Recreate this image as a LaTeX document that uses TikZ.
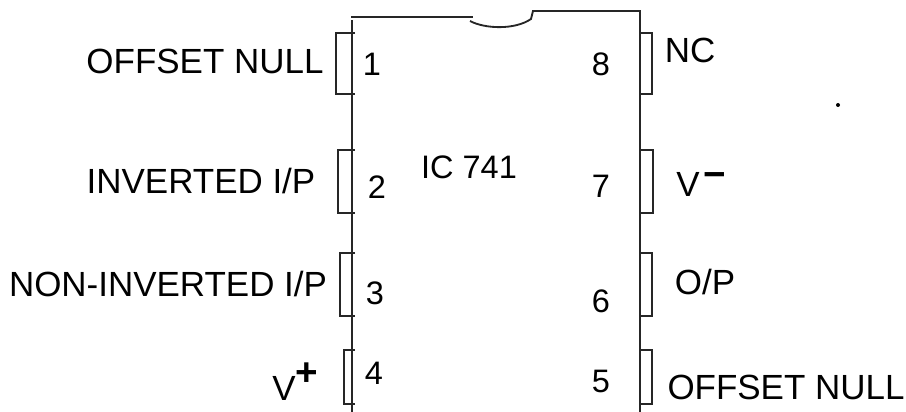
\documentclass[tikz,border=0pt]{standalone}
\usepackage{fontspec}
\setmainfont{Liberation Sans}
\tikzset{
  label/.style={inner sep=0pt, font=\fontsize{19.9}{20}\selectfont},
  pinnum/.style={inner sep=0pt, font=\fontsize{18.5}{18.5}\selectfont},
  chip/.style={line width=1.05pt, black!85}
}

\begin{document}
\begin{tikzpicture}[x=0.02cm, y=-0.02cm]
    \useasboundingbox (0, 0) rectangle (906, 412);
    % body of the chip
    \draw[chip] (352, 412)--(352, 20);
    \draw[chip] (351, 17)--(473, 17);
    \draw[chip] (470, 21) .. controls (485, 29) and (515, 30) .. (531, 19)--(533, 11)--(640, 11)--(640, 412);
    % left pins
    \draw[chip] (355, 33)--(336, 33)--(336, 94)--(355, 94);
    \draw[chip] (355, 150)--(338, 150)--(338, 213)--(355, 213);
    \draw[chip] (355, 253)--(340, 253)--(340, 316)--(355, 316);
    \draw[chip] (355, 350)--(344, 350)--(344, 404)--(355, 404);
    % right pins
    \draw[chip] (640, 33)--(652, 33)--(652, 94)--(640, 94);
    \draw[chip] (640, 150)--(653, 150)--(653, 213)--(640, 213);
    \draw[chip] (640, 253)--(652, 253)--(652, 316)--(640, 316);
    \draw[chip] (640, 350)--(652, 350)--(652, 404)--(640, 404);
    % pin numbers
    \node[pinnum] (one) at (372, 64){1};
    \node[pinnum] (two) at (377, 187){2};
    \node[pinnum] (three) at (375, 293){3};
    \node[pinnum] (four) at (374, 373){4};
    \node[pinnum] (five) at (601, 381){5};
    \node[pinnum] (six) at (601, 301){6};
    \node[pinnum] (seven) at (601, 186){7};
    \node[pinnum] (eight) at (601, 64){8};
    \node[pinnum] (ic) at (469, 167){IC 741};
    % pin names
    \node[label] (nullA) at (205, 61){OFFSET NULL};
    \node[label] (inv) at (201, 181){INVERTED I/P};
    \node[label] (noninv) at (168, 284){NON-INVERTED I/P};
    \node[label, anchor=base west] (vplus) at (272, 400){V\raisebox{8.5pt}{\fontsize{22}{22}\selectfont\bfseries +}};
    \node[label] (nc) at (690, 50){NC};
    \node[label, anchor=base west] (vminus) at (676, 196){V\raisebox{4.7pt}{\hspace{2.3pt}\fontsize{22}{22}\selectfont\bfseries \textminus}};
    \node[label] (op) at (705, 282){O/P};
    \node[label] (nullB) at (786, 387){OFFSET NULL};
    % stray dot
    \fill (838, 105) circle (2);
  \end{tikzpicture}
\end{document}
